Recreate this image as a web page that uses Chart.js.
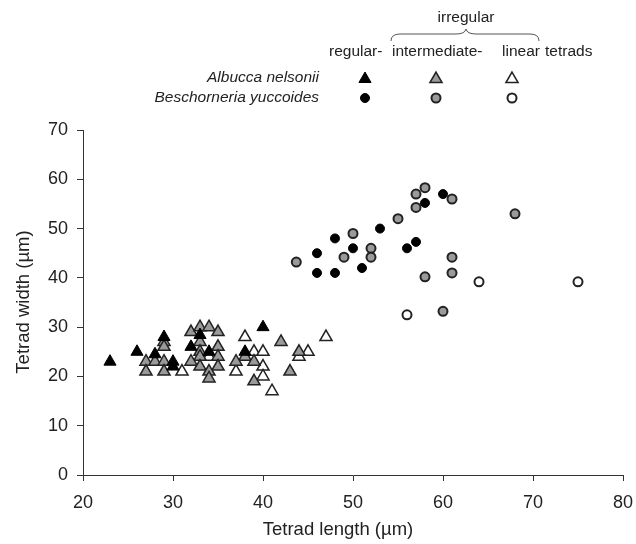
<!DOCTYPE html>
<html>
<head>
<meta charset="utf-8">
<script src="https://cdn.jsdelivr.net/npm/chart.js@4/dist/chart.umd.min.js"></script>
<style>
html,body{margin:0;padding:0;background:#fff;}
canvas{display:block;}
</style>
</head>
<body>
<canvas id="c" width="636" height="544"></canvas>
<script>
// Albucca nelsonii (triangles): [length, width]
const albuccaRegular = [[23,23],[26,25],[28,24.5],[29,28],[30,23],[30,22],[32,26],[33,28.4],[34,25],[38,25],[40,30]];
const albuccaIntermediate = [[27,23],[28,23],[27,21],[29,27],[29,26],[29,23],[29,21],[32,29],[33,30],[34,30],[35,29],[33,27],[35,26],[33,25],[33,24],[35,24],[32,23],[33,22],[35,22],[34,21],[34,19.6],[38,24],[37,23],[39,23],[39,19],[42,27],[43,21],[44,25]];
const albuccaLinear = [[31,21],[38,28],[47,28],[39,25],[40,25],[37,21],[40,22],[40,20],[41,17],[44,24],[45,25],[34,24]];
// Beschorneria yuccoides (circles)
const beschRegular = [[46,45],[46,41],[48,48],[48,41],[50,46],[51,42],[53,50],[56,46],[57,47.3],[58,55.2],[60,57]];
const beschIntermediate = [[43.7,43.2],[49,44.2],[50,49],[52,46],[52,44.2],[55,52],[57,57],[57,54.3],[58,58.3],[61,56],[58,40.2],[61,44.2],[61,41],[60,33.2],[68,53]];
const beschLinear = [[56,32.5],[64,39.2],[75,39.2]];

const xTicksMin = 20, xTicksMax = 80, yTicksMin = 0, yTicksMax = 70, tickStep = 10;
const xTitle = 'Tetrad length (µm)';
const yTitle = 'Tetrad width (µm)';
const legendHeader = ['regular-', 'intermediate-', 'linear', 'tetrads'];
const legendGroup = 'irregular';
const speciesNames = ['Albucca nelsonii', 'Beschorneria yuccoides'];

const FONT = "'Liberation Sans', Arial, sans-serif";
const GRAY = '#9a9a9a';
const EDGE = '#222';

function pts(arr){ return arr.map(p => ({x:p[0], y:p[1]})); }
function ds(arr, style, radius, bg, border, bw){
  return {data: pts(arr), pointStyle: style, pointRadius: radius, pointHoverRadius: radius,
    backgroundColor: bg, borderColor: border, pointBorderWidth: bw, borderWidth: bw, showLine:false};
}

function drawTri(ctx, x, y, r, fill, stroke, lw){
  ctx.beginPath();
  let a = 0;
  for(let i=0;i<3;i++){
    const px = x + Math.sin(a)*r, py = y - Math.cos(a)*r;
    if(i===0) ctx.moveTo(px,py); else ctx.lineTo(px,py);
    a += 2*Math.PI/3;
  }
  ctx.closePath();
  ctx.fillStyle = fill; ctx.fill();
  ctx.lineWidth = lw; ctx.strokeStyle = stroke; ctx.stroke();
}
function drawCirc(ctx, x, y, r, fill, stroke, lw){
  ctx.beginPath(); ctx.arc(x,y,r,0,Math.PI*2);
  ctx.fillStyle = fill; ctx.fill();
  ctx.lineWidth = lw; ctx.strokeStyle = stroke; ctx.stroke();
}

const overlay = {
  id:'overlay',
  afterDraw(chart){
    const ctx = chart.ctx;
    ctx.save();
    ctx.fillStyle = '#222';
    // axis titles
    ctx.font = '18.5px ' + FONT;
    ctx.textAlign = 'center'; ctx.textBaseline = 'middle';
    ctx.fillText(xTitle, 338, 530);
    ctx.save();
    ctx.translate(24, 302); ctx.rotate(-Math.PI/2);
    ctx.fillText(yTitle, 0, 0);
    ctx.restore();
    // legend
    ctx.font = '15.5px ' + FONT;
    ctx.textAlign = 'center';
    ctx.fillText(legendGroup, 466, 18);
    ctx.textAlign = 'left';
    const hx = [329, 392, 502, 545];
    legendHeader.forEach((t,i)=>ctx.fillText(t, hx[i], 52));
    ctx.font = 'italic 15.5px ' + FONT;
    ctx.textAlign = 'right';
    ctx.fillText(speciesNames[0], 319, 78);
    ctx.fillText(speciesNames[1], 319, 98);
    // brace
    ctx.strokeStyle = '#555'; ctx.lineWidth = 1;
    ctx.beginPath();
    ctx.moveTo(391, 41);
    ctx.quadraticCurveTo(391, 34, 400, 34);
    ctx.lineTo(456, 34);
    ctx.quadraticCurveTo(465, 34, 466, 29);
    ctx.quadraticCurveTo(467, 34, 476, 34);
    ctx.lineTo(530, 34);
    ctx.quadraticCurveTo(539, 34, 539, 41);
    ctx.stroke();
    // markers
    drawTri(ctx, 365, 79, 7, '#000', '#000', 1);
    drawTri(ctx, 436, 79, 7, GRAY, EDGE, 1.5);
    drawTri(ctx, 512, 79, 7, '#fff', EDGE, 1.5);
    drawCirc(ctx, 365, 98, 4.5, '#000', '#000', 1);
    drawCirc(ctx, 436, 98, 4.5, GRAY, EDGE, 2);
    drawCirc(ctx, 512, 98, 4.5, '#fff', EDGE, 2);
    ctx.restore();
  }
};

const tickFont = {size:18, family:FONT};
new Chart(document.getElementById('c'), {
  type:'scatter',
  data:{datasets:[
    ds(albuccaRegular, 'triangle', 7, '#000', '#000', 1),
    ds(beschRegular, 'circle', 4.5, '#000', '#000', 1),
    ds(albuccaIntermediate, 'triangle', 7, GRAY, EDGE, 1.5),
    ds(beschIntermediate, 'circle', 4.5, GRAY, EDGE, 2),
    ds(albuccaLinear, 'triangle', 7, '#fff', EDGE, 1.5),
    ds(beschLinear, 'circle', 4.5, '#fff', EDGE, 2)
  ]},
  options:{
    responsive:false, animation:false, devicePixelRatio:1,
    layout:{padding:{left:0, right:13, top:130, bottom:0}},
    plugins:{legend:{display:false}, tooltip:{enabled:false}},
    scales:{
      x:{type:'linear', min:xTicksMin, max:xTicksMax,
        ticks:{stepSize:tickStep, font:tickFont, color:'#222', padding:11},
        grid:{drawOnChartArea:false, drawTicks:true, tickLength:6, color:'#333'},
        border:{color:'#333', width:1},
        afterFit:(s)=>{ s.height = 69; s.paddingLeft = 0; s.paddingRight = 0; }},
      y:{type:'linear', min:yTicksMin, max:yTicksMax,
        ticks:{stepSize:tickStep, font:tickFont, color:'#222', padding:9},
        grid:{drawOnChartArea:false, drawTicks:true, tickLength:6, color:'#333'},
        border:{color:'#333', width:1},
        afterFit:(s)=>{ s.width = 83; s.paddingTop = 0; s.paddingBottom = 0; }}
    }
  },
  plugins:[overlay]
});
</script>
</body>
</html>
